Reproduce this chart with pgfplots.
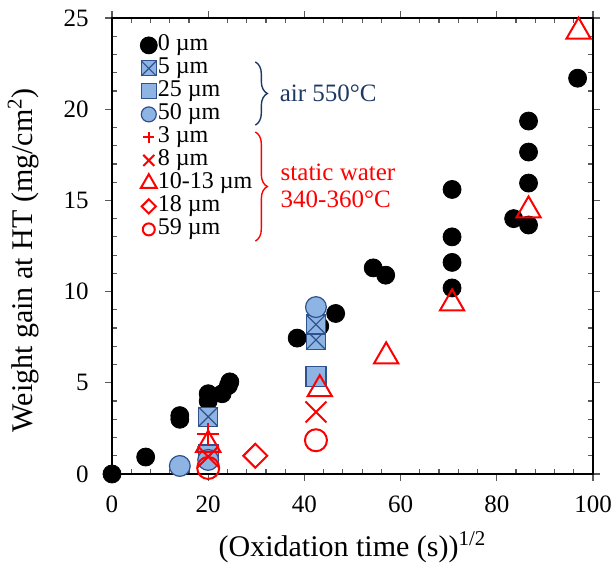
\documentclass[border=0pt]{standalone}
\usepackage{fontspec}
\setmainfont{Liberation Serif}
\usepackage{pgfplots}
\pgfplotsset{compat=1.18}
\usetikzlibrary{decorations.pathreplacing}

\definecolor{bfill}{RGB}{142,180,227}
\definecolor{bedge}{RGB}{47,82,143}
\definecolor{navy}{RGB}{31,56,100}

% filled square with a cross (5 um samples)
\pgfdeclareplotmark{sqx}{%
  \pgfpathrectangle{\pgfqpoint{-\pgfplotmarksize}{-\pgfplotmarksize}}{\pgfqpoint{2\pgfplotmarksize}{2\pgfplotmarksize}}%
  \pgfusepathqfillstroke
  \pgfpathmoveto{\pgfqpoint{-\pgfplotmarksize}{-\pgfplotmarksize}}%
  \pgfpathlineto{\pgfqpoint{\pgfplotmarksize}{\pgfplotmarksize}}%
  \pgfpathmoveto{\pgfqpoint{-\pgfplotmarksize}{\pgfplotmarksize}}%
  \pgfpathlineto{\pgfqpoint{\pgfplotmarksize}{-\pgfplotmarksize}}%
  \pgfusepathqstroke}

\begin{document}
\begin{tikzpicture}
\begin{axis}[
    scale only axis,
    width=240.5pt, height=228pt,
    xmin=0, xmax=100, ymin=0, ymax=25,
    xtick distance=20, ytick distance=5,
    minor x tick num=4, minor y tick num=4,
    tick align=inside,
    major tick length=-3.5pt, minor tick length=2.5pt,
    tick style={black!65, line width=0.6pt},
    axis line style={line width=1pt},
    clip=false,
    /pgf/number format/assume math mode=true,
    ticklabel style={font=\fontsize{12.5}{12.5}\selectfont, inner sep=0pt},
    yticklabel style={anchor=east, xshift=-11.5pt},
    xticklabel style={anchor=north, yshift=-10.5pt},
    xlabel={(Oxidation time (s))\textsuperscript{1/2}},
    ylabel={Weight gain at HT (mg/cm\textsuperscript{2})},
    xlabel style={at={(axis description cs:0.5,-0.180)}, anchor=base, font=\fontsize{15}{15}\selectfont},
    ylabel style={at={(axis description cs:-0.166,0.469)}, anchor=base, font=\fontsize{15}{15}\selectfont},
    legend image code/.code={\draw[mark repeat=2,mark phase=2,#1] plot coordinates {(0pt,0pt) (4.5pt,0pt) (9pt,0pt)};},
    legend cell align=left,
    legend style={draw=none, fill=none, at={(axis description cs:0.058,0.966)}, anchor=north west,
        inner sep=0pt, row sep=0pt, font=\fontsize{12}{12}\selectfont,
        nodes={inner sep=0.25pt, text height=8pt, text depth=3pt},
        /tikz/every even column/.append style={column sep=1pt}},
]
% legend entries
\addlegendimage{only marks, mark=*, black, mark size=4.25pt}
\addlegendentry{0 µm}
\addlegendimage{only marks, mark=sqx, draw=bedge, fill=bfill, line width=0.6pt, mark size=3.75pt}
\addlegendentry{5 µm}
\addlegendimage{only marks, mark=square*, draw=bedge, fill=bfill, line width=0.6pt, mark size=3.75pt}
\addlegendentry{25 µm}
\addlegendimage{only marks, mark=*, draw=bedge, fill=bfill, line width=0.6pt, mark size=3.75pt}
\addlegendentry{50 µm}
\addlegendimage{only marks, mark=+, red, line width=1pt, mark size=2.75pt}
\addlegendentry{3 µm}
\addlegendimage{only marks, mark=x, red, line width=1pt, mark size=3.9pt}
\addlegendentry{8 µm}
\addlegendimage{only marks, mark=triangle, red, line width=1pt, mark size=4.6pt}
\addlegendentry{10-13 µm}
\addlegendimage{only marks, mark=square, red, line width=1pt, mark size=2.5pt, mark options={rotate=45}}
\addlegendentry{18 µm}
\addlegendimage{only marks, mark=o, red, line width=1pt, mark size=3pt}
\addlegendentry{59 µm}

% 0 um
\addplot[forget plot, only marks, mark=*, black, mark size=4.5pt] coordinates {
(0,0) (7.0,0.93) (14.1,3.0) (14.1,3.2) (20,4.0) (20,4.4) (22.9,4.4) (24.2,4.85) (24.5,5.05)
(38.5,7.45) (43.2,8.1) (46.5,8.8) (54.3,11.3) (56.9,10.9)
(70.7,10.2) (70.7,11.6) (70.7,13.0) (70.7,15.6)
(83.5,14.0) (86.6,13.65) (86.6,15.95) (86.6,17.65) (86.6,19.35) (96.8,21.7)};
% air 550 C
\addplot[forget plot, only marks, mark=sqx, draw=bedge, fill=bfill, line width=0.6pt, mark size=4.75pt] coordinates {
(20,3.14) (42.4,7.35) (42.4,8.2)};
\addplot[forget plot, only marks, mark=square*, draw=bedge, fill=bfill, line width=0.6pt, mark size=5pt] coordinates {
(20,1.04) (42.4,5.35)};
\addplot[forget plot, only marks, mark=*, draw=bedge, fill=bfill, line width=0.6pt, mark size=5.2pt] coordinates {
(14.1,0.44) (20,0.77) (42.4,9.15)};
% static water
\addplot[forget plot, only marks, mark=+, red, line width=1pt, mark size=5.5pt] coordinates {
(20,2.2)};
\addplot[forget plot, only marks, mark=x, red, line width=1pt, mark size=7.4pt] coordinates {
(20,0.95) (42.4,3.4)};
\addplot[forget plot, only marks, mark=triangle, red, line width=1pt, mark size=7pt] coordinates {
(20,1.6) (43.2,4.65) (57,6.45) (70.7,9.35) (86.6,14.45) (97,24.25)};
\addplot[forget plot, only marks, mark=square, red, line width=1pt, mark size=4.24pt, mark options={rotate=45}] coordinates {
(29.8,1.0)};
\addplot[forget plot, only marks, mark=o, red, line width=1pt, mark size=5.5pt] coordinates {
(20,0.33) (42.4,1.85)};

% group braces
\draw[navy, line width=0.7pt, decorate, decoration={brace, amplitude=6pt}]
    (axis cs:29.8,22.59) -- (axis cs:29.8,19.13);
\node[navy, anchor=west, inner sep=0pt, font=\fontsize{12.5}{12.5}\selectfont] at (axis cs:34.8,20.89) {air 550°C};
\draw[red, line width=0.7pt, decorate, decoration={brace, amplitude=6pt}]
    (axis cs:29.8,18.75) -- (axis cs:29.8,12.77);
\node[red, anchor=west, inner sep=0pt, align=left, font=\fontsize{12.5}{13.5}\selectfont] at (axis cs:35,15.82) {static water\\340-360°C};
\end{axis}
\pgfresetboundingbox
\path[use as bounding box] ([shift={(-56pt,-45pt)}]current axis.south west) rectangle ([shift={(9pt,9pt)}]current axis.north east);
\end{tikzpicture}
\end{document}
